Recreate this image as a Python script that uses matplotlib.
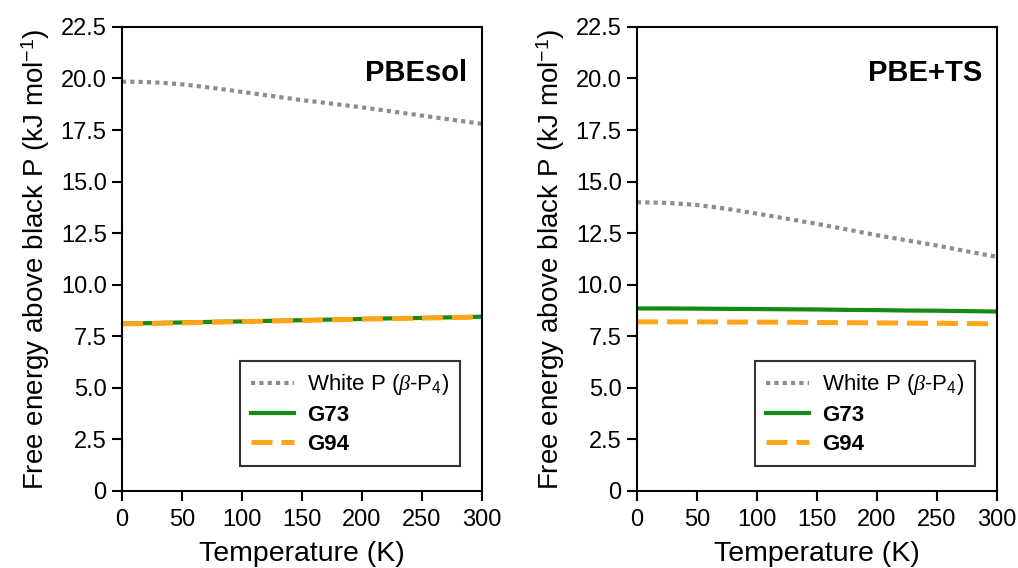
import matplotlib
matplotlib.use('Agg')
import matplotlib.pyplot as plt

plt.rcParams['font.family'] = ['Liberation Sans', 'DejaVu Sans']
plt.rcParams['mathtext.fontset'] = 'custom'
plt.rcParams['mathtext.it'] = 'Liberation Serif:italic'
plt.rcParams['mathtext.rm'] = 'Liberation Sans'

temps = [0, 25, 50, 75, 100, 125, 150, 175, 200, 225, 250, 275, 300]

# PBEsol panel
white_pbesol = [19.85, 19.82, 19.72, 19.55, 19.35, 19.15, 18.95, 18.78, 18.6, 18.4, 18.2, 18.0, 17.8]
g73_pbesol = [8.12, 8.14, 8.17, 8.2, 8.22, 8.25, 8.28, 8.31, 8.34, 8.37, 8.39, 8.42, 8.45]
g94_pbesol = [8.1, 8.12, 8.15, 8.18, 8.21, 8.24, 8.27, 8.3, 8.33, 8.36, 8.38, 8.41, 8.43]

# PBE+TS panel
white_pbets = [14.0, 13.97, 13.87, 13.68, 13.45, 13.2, 12.95, 12.68, 12.4, 12.15, 11.9, 11.62, 11.35]
g73_pbets = [8.85, 8.85, 8.84, 8.83, 8.82, 8.81, 8.8, 8.78, 8.77, 8.75, 8.74, 8.72, 8.7]
g94_pbets = [8.2, 8.2, 8.2, 8.19, 8.19, 8.18, 8.17, 8.16, 8.15, 8.14, 8.13, 8.12, 8.1]

panels = [('PBEsol', white_pbesol, g73_pbesol, g94_pbesol),
          ('PBE+TS', white_pbets, g73_pbets, g94_pbets)]

fig = plt.figure(figsize=(10.18, 5.68), dpi=100)
lefts = [0.1198, 0.6257]
width = 0.3537

for left, (name, white, g73, g94) in zip(lefts, panels):
    ax = fig.add_axes([left, 0.1356, width, 0.817])
    ax.plot(temps, white, color='#8c8c8c', ls=(0, (1, 1)), lw=3, label=r'White P ($\beta$-P$_4$)')
    ax.plot(temps, g73, color='#158a15', ls='-', lw=3, label='G73')
    ax.plot(temps, g94, color='#ffa51a', ls=(0, (4.2, 1.8)), lw=3.6, label='G94')
    ax.set_xlim(0, 300)
    ax.set_ylim(0, 22.5)
    ax.set_xticks(range(0, 301, 50))
    ax.set_yticks([0, 2.5, 5, 7.5, 10, 12.5, 15, 17.5, 20, 22.5])
    ax.set_yticklabels(['0'] + ['%.1f' % v for v in [2.5, 5, 7.5, 10, 12.5, 15, 17.5, 20, 22.5]])
    ax.tick_params(labelsize=17, width=1.5, length=7, pad=4)
    ax.tick_params(axis='x', pad=6)
    for s in ax.spines.values():
        s.set_linewidth(1.5)
    ax.set_xlabel('Temperature (K)', fontsize=20.5, labelpad=7)
    ax.set_ylabel('Free energy above black P (kJ mol$^{\u22121}$)', fontsize=20, labelpad=6)
    ax.text(0.96, 0.9, name, transform=ax.transAxes, ha='right', va='center',
            fontsize=21, fontweight='bold')
    leg = ax.legend(loc='lower right', fontsize=16, frameon=True, fancybox=False,
                    edgecolor='black', handlelength=1.9, handletextpad=0.6,
                    labelspacing=0.35, borderpad=0.5, bbox_to_anchor=(0.97, 0.03))
    leg.get_frame().set_linewidth(1.5)
    texts = leg.get_texts()
    texts[1].set_fontweight('bold')
    texts[2].set_fontweight('bold')

fig.savefig('out.png', dpi=100)
